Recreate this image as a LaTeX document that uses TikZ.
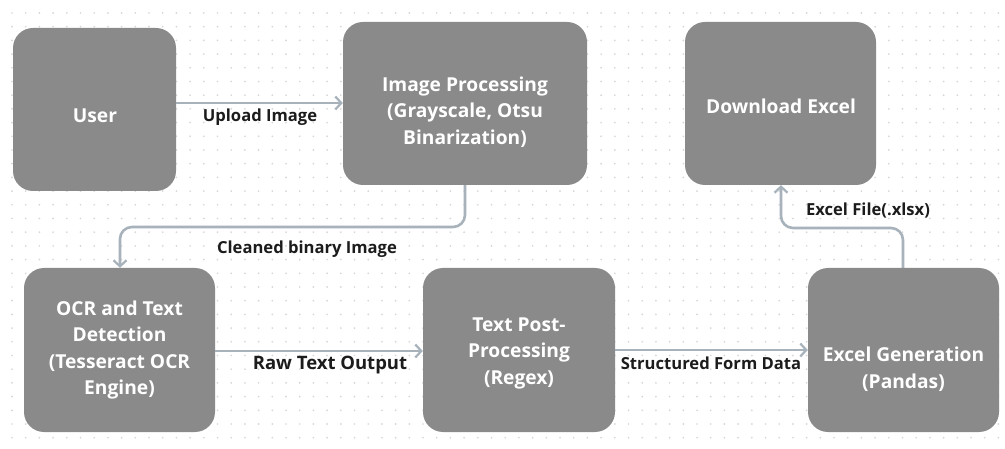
\documentclass[tikz,border=0pt]{standalone}
\usepackage{fontspec}
\setmainfont{Open Sans}
\usetikzlibrary{arrows.meta,calc}
\definecolor{boxgray}{HTML}{8A8A8A}
\definecolor{linkgray}{HTML}{A7B2BB}
\definecolor{dotgray}{HTML}{D6D6D6}
\definecolor{inktext}{HTML}{1C1C1C}
\tikzset{
  stage/.style={fill=boxgray, draw=none, rounded corners=20pt, inner sep=0pt},
  stagetext/.style={text=white, font=\bfseries\fontsize{19.2}{26.5}\selectfont, align=center, inner sep=0pt},
  link/.style={draw=linkgray, line width=2.6pt, rounded corners=12pt,
    -{Straight Barb[length=6pt,width=13pt,line width=2.2pt]}},
  linklabel/.style={text=inktext, font=\bfseries\fontsize{16.6}{18}\selectfont, inner sep=0pt},
}
\begin{document}
\begin{tikzpicture}[x=1pt,y=-1pt]
\useasboundingbox (0,0) rectangle (1005,449);
\fill[white] (0,0) rectangle (1005,449);
% dotted canvas
\foreach \i in {0,...,72} {
  \foreach \j in {0,...,31} {
    \fill[dotgray] ({12+13.7*\i},{13+13.7*\j}) circle (0.95pt);
  }
}
% stages
\node[stage, minimum width=163pt, minimum height=163pt] (user) at (94.5,109.5) {};
\node[stage, minimum width=244pt, minimum height=163pt] (img) at (465,103.5) {};
\node[stage, minimum width=191pt, minimum height=163pt] (dl) at (780.5,103.5) {};
\node[stage, minimum width=191pt, minimum height=164pt] (ocr) at (119.5,350) {};
\node[stage, minimum width=192pt, minimum height=164pt] (post) at (519,350) {};
\node[stage, minimum width=191pt, minimum height=164pt] (gen) at (903.5,350) {};
% stage captions
\node[stagetext] (userT) at (95,116) {User};
\node[stagetext] (imgT) at (465,112) {Image Processing\\(Grayscale, Otsu\\Binarization)};
\node[stagetext] (dlT) at (781,106) {Download Excel};
\node[stagetext] (ocrT) at (119.5,350) {OCR and Text\\Detection\\(Tesseract OCR\\Engine)};
\node[stagetext] (postT) at (519,353) {Text Post-\\Processing\\(Regex)};
\node[stagetext] (genT) at (903.5,369) {Excel Generation\\(Pandas)};
% connector anchors
\coordinate (a1) at (user.east |- 0,103);
\coordinate (a2) at (img.west |- 0,103);
\coordinate (b1) at (img.south -| 465,0);
\coordinate (b2) at (120,227);
\coordinate (b3) at (ocr.north -| 120,0);
\coordinate (c1) at (ocr.east |- 0,351);
\coordinate (c2) at (post.west |- 0,351);
\coordinate (d1) at (post.east |- 0,350);
\coordinate (d2) at (gen.west |- 0,350);
\coordinate (e1) at (gen.north -| 903,0);
\coordinate (e2) at (781,228);
\coordinate (e3) at (dl.south -| 781,0);
% connectors
\draw[link] (a1) -- (a2);
\draw[link] (b1) |- (b2) -- (b3);
\draw[link] (c1) -- (c2);
\draw[link] (d1) -- (d2);
\draw[link] (e1) |- (e2) -- (e3);
% connector labels
\node[linklabel] (l1) at (260,117) {Upload Image};
\node[linklabel] (l2) at (307,249) {Cleaned binary Image};
\node[linklabel, font=\bfseries\fontsize{18.5}{20}\selectfont] (l3) at (330,365) {Raw Text Output};
\node[linklabel] (l4) at (711,363) {Structured Form Data};
\node[linklabel] (l5) at (868,211) {Excel File(.xlsx)};
\end{tikzpicture}
\end{document}
